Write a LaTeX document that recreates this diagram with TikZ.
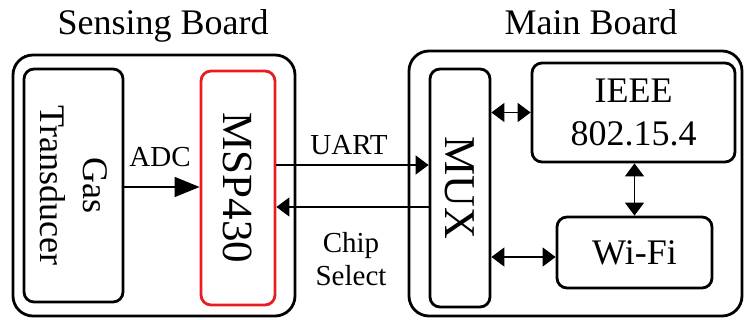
\documentclass[tikz,border=0pt]{standalone}
\usepackage{fontspec}
\setmainfont{Liberation Serif}
\usetikzlibrary{arrows.meta}
\begin{document}
\begin{tikzpicture}[x=1pt,y=-1pt,
  board/.style={draw=black, line width=2.8pt, rounded corners=20pt, inner sep=0pt},
  blk/.style={draw=black, line width=2.8pt, rounded corners=10pt, inner sep=0pt, align=center},
  redblk/.style={blk, draw={rgb,255:red,230;green,30;blue,35}},
  arr/.style={line width=1.4pt, -{Triangle[length=13pt,width=19pt]}},
  darr/.style={line width=1.4pt, {Triangle[length=13pt,width=19pt]}-{Triangle[length=13pt,width=19pt]}},
  bigarr/.style={line width=1.4pt, -{Triangle[length=25pt,width=20pt]}},
  ttl/.style={font=\fontsize{36}{43}\selectfont, inner sep=0pt, anchor=base},
  lbl/.style={font=\fontsize{29}{33}\selectfont, inner sep=0pt},
  txt/.style={font=\fontsize{36}{43}\selectfont}
]
\useasboundingbox (0,0) rectangle (745,320);

% boards
\node[board, minimum width=282pt, minimum height=261pt] (SB) at (154,185.5) {};
\node[board, minimum width=333pt, minimum height=265pt] (MB) at (575.5,183.5) {};
\node[ttl] (SBt) at (163,35) {Sensing Board};
\node[ttl] (MBt) at (591,35) {Main Board};

% blocks
\node[blk, minimum width=99pt, minimum height=233pt] (Gas) at (73.5,185.5) {};
\node[txt, rotate=-90, align=center] (Gast) at (Gas.center) {Gas\\Transducer};
\node[redblk, minimum width=74pt, minimum height=234pt] (MSP) at (238,188) {};
\node[font=\fontsize{43}{50}\selectfont, rotate=-90] (MSPt) at (MSP.center) {MSP430};
\node[blk, minimum width=60pt, minimum height=238pt] (MUX) at (460,188) {};
\node[font=\fontsize{44}{50}\selectfont, rotate=-90] (MUXt) at (MUX.center) {MUX};
\node[blk, txt, minimum width=203pt, minimum height=99pt] (IEEE) at (633.5,112.5) {IEEE\\802.15.4};
\node[blk, txt, minimum width=155pt, minimum height=71pt] (WiFi) at (634.5,252.5) {Wi-Fi};

% helper coordinates
\coordinate (adcy) at (0,187);
\coordinate (uy) at (0,165);
\coordinate (csy) at (0,207);
\coordinate (wy) at (0,257);

% connectors
\draw[bigarr] (Gas.east |- adcy) -- (MSP.west |- adcy);
\draw[arr] (MSP.east |- uy) -- (MUX.west |- uy);
\draw[arr] (MUX.west |- csy) -- (MSP.east |- csy);
\draw[darr] (MUX.east |- IEEE.west) -- (IEEE.west);
\draw[darr] (MUX.east |- wy) -- (WiFi.west |- wy);
\draw[darr] (IEEE.south -| WiFi.north) -- (WiFi.north);

% labels
\node[lbl, anchor=base] (adcl) at (160,167) {ADC};
\node[lbl, anchor=base] (uartl) at (349,155) {UART};
\node[lbl, anchor=north, align=center] (csl) at (351,232) {Chip\\Select};
\end{tikzpicture}
\end{document}
